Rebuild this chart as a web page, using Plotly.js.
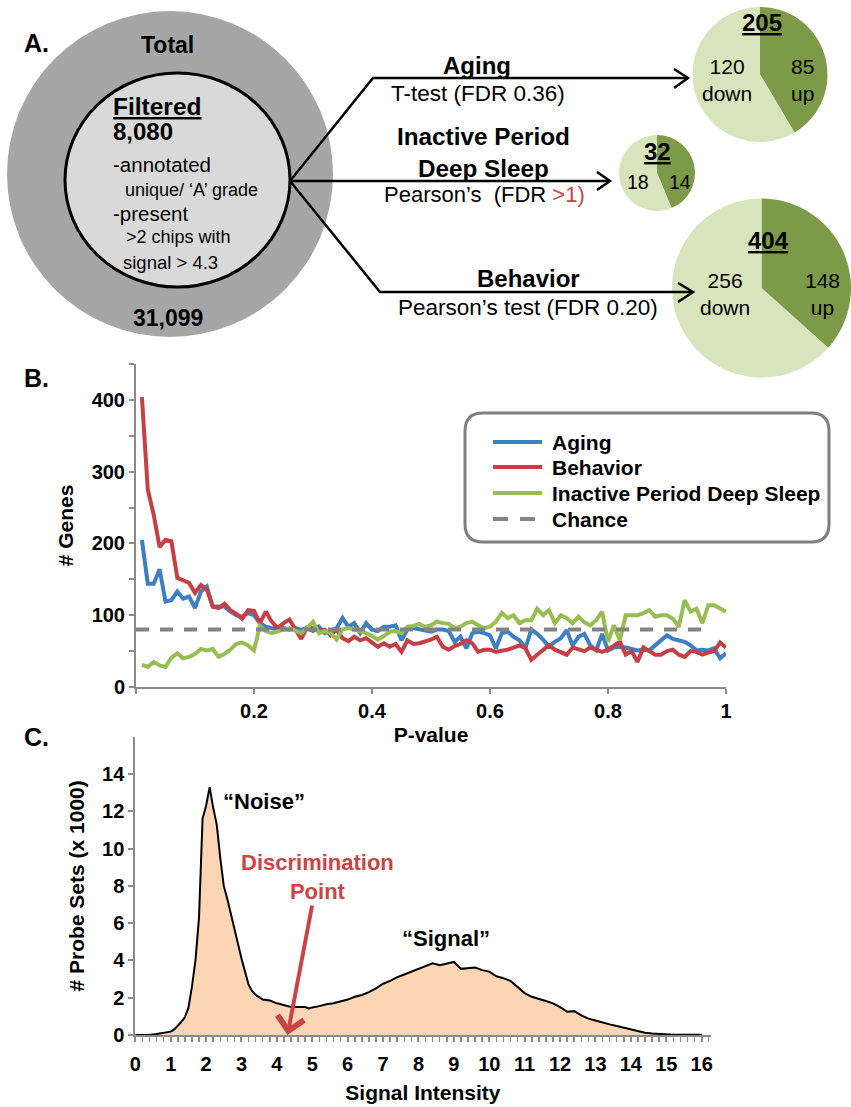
<!DOCTYPE html>
<html><head><meta charset="utf-8">
<script src="https://cdn.plot.ly/plotly-3.0.1.min.js"></script>
<style>html,body{margin:0;padding:0;background:#fff;}#chart{width:851px;height:1107px;}</style>
</head><body><div id="chart"></div>
<script>
// ---------- Panel A data ----------
const pieTotals = [205, 32, 404];
const pieUp = [85, 14, 148];
const pieDown = [120, 18, 256];
const totalProbes = '31,099';
const filteredProbes = '8,080';

// ---------- Panel B data ----------
const pValues = [0.01,0.02,0.03,0.04,0.05,0.06,0.07,0.08,0.09,0.10,
  0.11,0.12,0.13,0.14,0.15,0.16,0.17,0.18,0.19,0.20,
  0.21,0.22,0.23,0.24,0.25,0.26,0.27,0.28,0.29,0.30,
  0.31,0.32,0.33,0.34,0.35,0.36,0.37,0.38,0.39,0.40,
  0.41,0.42,0.43,0.44,0.45,0.46,0.47,0.48,0.49,0.50,
  0.51,0.52,0.53,0.54,0.55,0.56,0.57,0.58,0.59,0.60,
  0.61,0.62,0.63,0.64,0.65,0.66,0.67,0.68,0.69,0.70,
  0.71,0.72,0.73,0.74,0.75,0.76,0.77,0.78,0.79,0.80,
  0.81,0.82,0.83,0.84,0.85,0.86,0.87,0.88,0.89,0.90,
  0.91,0.92,0.93,0.94,0.95,0.96,0.97,0.98,0.99,1.00];
const aging = [205,144,144,164,119,121,133,123,126,110, 133,140,112,112,112,105,100,98,103,100,
  89,84,82,80,82,80,82,80,82,78, 84,75,78,82,96,84,89,75,89,80,
  78,84,84,86,65,80,82,80,78,77, 80,80,78,63,70,54,75,77,75,72,
  54,75,77,70,65,54,80,74,66,56, 63,68,79,58,70,74,58,51,74,51,
  55,56,55,53,51,52,51,58,65,72, 67,65,63,58,51,52,51,54,40,47];
const behavior = [404,275,240,195,205,203,152,149,145,131, 142,136,112,110,116,107,102,95,107,106,
  89,105,91,82,89,94,80,67,83,82, 78,80,72,80,68,64,70,65,68,62,
  56,61,56,60,49,65,60,61,63,66, 70,56,52,57,60,65,61,49,52,52,
  49,50,52,55,58,54,38,45,52,58, 52,49,45,55,52,50,55,52,49,52,
  58,63,45,50,35,55,50,45,45,50, 52,45,42,50,49,45,48,50,62,55];
const deepSleep = [31,28,35,30,28,41,47,40,42,46, 53,51,53,42,46,52,60,62,58,51,
  85,78,75,78,80,82,78,75,82,91, 75,78,75,66,80,82,80,78,75,71,
  66,71,77,78,75,84,85,88,84,86, 91,89,88,82,84,89,91,86,82,84,
  91,103,96,100,89,93,93,109,100,107, 89,100,96,89,98,90,86,93,105,63,
  86,65,100,100,100,103,107,98,100,100, 95,84,121,105,109,89,114,114,110,105];
const chanceP = [0, 0.97];
const chanceY = [80, 80];
const seriesNames = ['Aging', 'Behavior', 'Inactive Period Deep Sleep', 'Chance'];
const pTickVals = [0, 0.2, 0.4, 0.6, 0.8, 1];
const pTickText = ['', '0.2', '0.4', '0.6', '0.8', '1'];
const genesTickVals = [0, 100, 200, 300, 400];

// ---------- Panel C data ----------
const signal = [0,0.2,0.4,0.6,0.8,1.0,1.1,1.2,1.3,1.4,1.5,1.6,1.7,1.8,1.9,2.0,2.1,2.2,2.3,2.4,2.5,2.6,2.7,2.8,2.9,3.0,3.1,3.2,3.3,3.4,
  3.6,3.8,4.0,4.2,4.4,4.6,4.8,4.9,5.0,5.2,5.4,5.6,5.8,6.0,6.2,6.4,6.6,6.8,7.0,7.2,7.4,7.6,7.8,8.0,8.2,8.4,8.6,8.8,9.0,
  9.2,9.4,9.6,9.8,10.0,10.2,10.4,10.6,10.8,11.0,11.2,11.4,11.6,11.8,12.0,12.2,12.4,12.6,12.8,13.0,13.2,13.4,13.6,13.8,
  14.0,14.2,14.4,14.6,14.8,15.0,15.2,15.4,15.6,15.8,16.0];
const probeSets = [0,0,0,0.05,0.1,0.18,0.3,0.48,0.7,0.95,1.45,2.6,4.0,6.3,11.6,12.3,13.3,12.2,11.3,9.5,8.0,7.3,6.5,5.6,4.8,4.1,3.4,2.7,2.35,2.15,
  1.9,1.85,1.7,1.58,1.5,1.5,1.5,1.42,1.48,1.55,1.65,1.7,1.8,1.9,2.05,2.15,2.3,2.5,2.75,2.9,3.1,3.25,3.4,3.55,3.7,3.85,3.75,3.85,3.92,
  3.55,3.6,3.62,3.48,3.4,3.15,3.05,2.9,2.55,2.25,2.05,1.95,1.82,1.7,1.5,1.25,1.28,1.05,0.88,0.78,0.66,0.57,0.48,0.38,
  0.3,0.2,0.12,0.08,0.05,0.03,0.02,0.02,0.02,0.04,0.01];
const signalTickVals = [0,1,2,3,4,5,6,7,8,9,10,11,12,13,14,15,16];
const probeTickVals = [0,2,4,6,8,10,12,14];
const discriminationPoint = 4.3;

// ---------- helpers (pixel -> paper) ----------
const W = 851, H = 1107;
const FONT = 'Liberation Sans, Arial, sans-serif';
const px = x => x / W;
const py = y => 1 - y / H;
function pathPx(cmds) {
  return cmds.map(c => c[0] + c.slice(1).map((v, i) => (i % 2 === 0 ? px(v) : py(v)).toFixed(5)).join(',')).join(' ');
}
function ann(text, x, y, size, opts) {
  return Object.assign({text: text, xref: 'paper', yref: 'paper', x: px(x), y: py(y), showarrow: false,
    xanchor: 'center', yanchor: 'middle', font: {family: FONT, size: size, color: '#000'}}, opts || {});
}

const blue = '#3e7ec4', red = '#c53f45', green = '#98bd52', gray = '#838383';
const darkGreen = '#7c9a47', lightGreen = '#d8e4bc';
const axisGray = '#8a8a8a';

// ---------- traces ----------
const traces = [];
const pieDomains = [
  {x: [px(692.5), px(827.5)], y: [py(142), py(7)]},
  {x: [px(619), px(695)], y: [py(211), py(135)]},
  {x: [px(672), px(851)], y: [py(377.5), py(198.5)]}
];
for (let i = 0; i < 3; i++) {
  traces.push({type: 'pie', values: [pieUp[i], pieDown[i]], labels: ['up', 'down'], sort: false,
    direction: 'clockwise', rotation: 0, textinfo: 'none', hoverinfo: 'label+value', showlegend: false,
    marker: {colors: [darkGreen, lightGreen], line: {width: 0}}, domain: pieDomains[i]});
}
const lineSeries = [[aging, blue], [behavior, red], [deepSleep, green]];
lineSeries.forEach((s, i) => {
  traces.push({type: 'scatter', mode: 'lines', x: pValues, y: s[0], name: seriesNames[i], xaxis: 'x', yaxis: 'y',
    line: {color: s[1], width: 4}, showlegend: false});
});
traces.push({type: 'scatter', mode: 'lines', x: chanceP, y: chanceY, name: seriesNames[3], xaxis: 'x', yaxis: 'y',
  line: {color: gray, width: 4, dash: '13px,11px'}, showlegend: false});
traces.push({type: 'scatter', mode: 'lines', x: signal, y: probeSets, xaxis: 'x2', yaxis: 'y2', fill: 'tozeroy',
  fillcolor: '#fcd5b4', line: {color: '#000', width: 2}, showlegend: false, name: 'Probe sets'});

// ---------- shapes ----------
const shapes = [];
shapes.push({type: 'circle', xref: 'paper', yref: 'paper', x0: px(7), x1: px(333), y0: py(337), y1: py(11),
  fillcolor: '#a6a6a6', line: {width: 0}, layer: 'below'});
shapes.push({type: 'circle', xref: 'paper', yref: 'paper', x0: px(65), x1: px(290), y0: py(287), y1: py(73),
  fillcolor: '#d9d9d9', line: {color: '#000', width: 3}, layer: 'below'});
const arrowLine = {color: '#000', width: 2.5};
shapes.push({type: 'path', xref: 'paper', yref: 'paper', line: arrowLine, path: pathPx([['M', 290, 181], ['L', 373, 78], ['L', 686, 78]])});
shapes.push({type: 'path', xref: 'paper', yref: 'paper', line: arrowLine, path: pathPx([['M', 674, 69], ['L', 688, 78], ['L', 674, 88]])});
shapes.push({type: 'path', xref: 'paper', yref: 'paper', line: arrowLine, path: pathPx([['M', 290, 181], ['L', 608, 181]])});
shapes.push({type: 'path', xref: 'paper', yref: 'paper', line: arrowLine, path: pathPx([['M', 597, 172], ['L', 610, 181], ['L', 597, 190]])});
shapes.push({type: 'path', xref: 'paper', yref: 'paper', line: arrowLine, path: pathPx([['M', 290, 181], ['L', 380, 292], ['L', 691, 292]])});
shapes.push({type: 'path', xref: 'paper', yref: 'paper', line: arrowLine, path: pathPx([['M', 678, 283], ['L', 693, 292], ['L', 678, 302]])});
const lx0 = 465, ly0 = 413, lx1 = 829, ly1 = 542, rr = 18;
shapes.push({type: 'path', xref: 'paper', yref: 'paper', line: {color: '#7f7f7f', width: 3}, fillcolor: 'rgba(255,255,255,0)',
  path: pathPx([['M', lx0 + rr, ly0], ['L', lx1 - rr, ly0], ['Q', lx1, ly0, lx1, ly0 + rr], ['L', lx1, ly1 - rr],
    ['Q', lx1, ly1, lx1 - rr, ly1], ['L', lx0 + rr, ly1], ['Q', lx0, ly1, lx0, ly1 - rr], ['L', lx0, ly0 + rr],
    ['Q', lx0, ly0, lx0 + rr, ly0], ['Z']])});
const legendRows = [442, 467, 493, 519];
const legendColors = [blue, red, green, gray];
legendRows.forEach((ry, i) => {
  shapes.push({type: 'line', xref: 'paper', yref: 'paper', x0: px(493), x1: px(542), y0: py(ry), y1: py(ry),
    line: {color: legendColors[i], width: 4, dash: i === 3 ? '15px,12px' : 'solid'}});
});

// ---------- annotations ----------
const A = [];
A.push(ann('<b>A.</b>', 36, 43, 25));
A.push(ann('<b>B.</b>', 36, 378, 25));
A.push(ann('<b>C.</b>', 36, 737, 25));
A.push(ann('<b>Total</b>', 167, 45, 23));
A.push(ann('<b><u>Filtered</u></b>', 111, 106, 24.5, {xanchor: 'left'}));
A.push(ann('<b>' + filteredProbes + '</b>', 111, 132, 24, {xanchor: 'left'}));
A.push(ann('-annotated', 111, 164, 20.5, {xanchor: 'left'}));
A.push(ann('unique/ ‘A’ grade', 123, 190, 18, {xanchor: 'left'}));
A.push(ann('-present', 111, 213, 20.5, {xanchor: 'left'}));
A.push(ann('>2 chips with', 124, 237, 18, {xanchor: 'left'}));
A.push(ann('signal > 4.3', 121, 262, 18.5, {xanchor: 'left'}));
A.push(ann('<b>' + totalProbes + '</b>', 168, 318, 23));
A.push(ann('<b>Aging</b>', 477, 66, 24));
A.push(ann('T-test (FDR 0.36)', 478, 93, 22.5));
A.push(ann('<b>Inactive Period<br>Deep Sleep</b>', 483, 153, 24.3));
A.push(ann('Pearson’s  (FDR <span style="color:#c94545">&gt;1)</span>', 484, 194, 22));
A.push(ann('<b>Behavior</b>', 528, 278, 24));
A.push(ann('Pearson’s test (FDR 0.20)', 528, 307, 22.5));
A.push(ann('<b><u>' + pieTotals[0] + '</u></b>', 762, 22, 24));
A.push(ann(pieDown[0] + '<br>down', 727, 80, 21));
A.push(ann(pieUp[0] + '<br>up', 802, 80, 21));
A.push(ann('<b><u>' + pieTotals[1] + '</u></b>', 657, 152, 24));
A.push(ann(String(pieDown[1]), 638, 182, 19.5));
A.push(ann(String(pieUp[1]), 680, 182, 19.5));
A.push(ann('<b><u>' + pieTotals[2] + '</u></b>', 768, 240, 24));
A.push(ann(pieDown[2] + '<br>down', 725, 294, 21));
A.push(ann(pieUp[2] + '<br>up', 822, 294, 21));
legendRows.forEach((ry, i) => {
  A.push(ann('<b>' + seriesNames[i] + '</b>', 550, ry, 21, {xanchor: 'left'}));
});
A.push({text: '<b>“Noise”</b>', xref: 'x2', yref: 'y2', x: 3.64, y: 12.55, showarrow: false,
  font: {family: FONT, size: 22, color: '#000'}});
A.push({text: '<b>“Signal”</b>', xref: 'x2', yref: 'y2', x: 8.77, y: 5.2, showarrow: false,
  font: {family: FONT, size: 22, color: '#000'}});
A.push({text: '<b>Discrimination<br>Point</b>', xref: 'x2', yref: 'y2', x: discriminationPoint, y: 0,
  showarrow: true, ax: 30, ay: -158, arrowcolor: '#c94545', arrowwidth: 4, arrowhead: 4, arrowsize: 1.3,
  font: {family: FONT, size: 22, color: '#c94545'}});

const tickFont = {family: FONT, size: 20, color: '#000', weight: 'bold'};
const titleFont = {family: FONT, size: 21, color: '#000', weight: 'bold'};
const axisCommon = {showline: true, linecolor: axisGray, linewidth: 2, ticks: 'outside', ticklen: 5, tickwidth: 2,
  tickcolor: axisGray, showgrid: false, zeroline: false, tickfont: tickFont, fixedrange: true};

const layout = {
  width: W, height: H, margin: {l: 0, r: 0, t: 0, b: 0}, paper_bgcolor: '#fff', plot_bgcolor: 'rgba(0,0,0,0)',
  showlegend: false, font: {family: FONT},
  xaxis: Object.assign({}, axisCommon, {domain: [px(136), px(726)], range: [0, 1], anchor: 'y',
    tickmode: 'array', tickvals: pTickVals, ticktext: pTickText,
    title: {text: 'P-value', font: titleFont, standoff: 6}}),
  yaxis: Object.assign({}, axisCommon, {domain: [py(687), py(364)], range: [0, 450], anchor: 'x',
    tickmode: 'array', tickvals: genesTickVals,
    minor: {tickvals: [50, 150, 250, 350, 450], ticks: 'outside', ticklen: 5, tickwidth: 2, tickcolor: axisGray},
    title: {text: '# Genes', font: titleFont, standoff: 12}}),
  xaxis2: Object.assign({}, axisCommon, {domain: [px(135.3), px(710.5)], range: [0, 16.25], anchor: 'y2',
    tickmode: 'array', tickvals: signalTickVals, ticklabelstandoff: 5,
    minor: {dtick: 0.2, tick0: 0, ticks: 'outside', ticklen: 5, tickwidth: 1.5, tickcolor: axisGray},
    title: {text: 'Signal Intensity', font: titleFont, standoff: 11}}),
  yaxis2: Object.assign({}, axisCommon, {domain: [py(1035), py(736.8)], range: [0, 16], anchor: 'x2',
    tickmode: 'array', tickvals: probeTickVals,
    title: {text: '# Probe Sets (x 1000)', font: titleFont, standoff: 12}}),
  shapes: shapes,
  annotations: A
};

Plotly.newPlot('chart', traces, layout, {displayModeBar: false, staticPlot: true});
</script></body></html>
